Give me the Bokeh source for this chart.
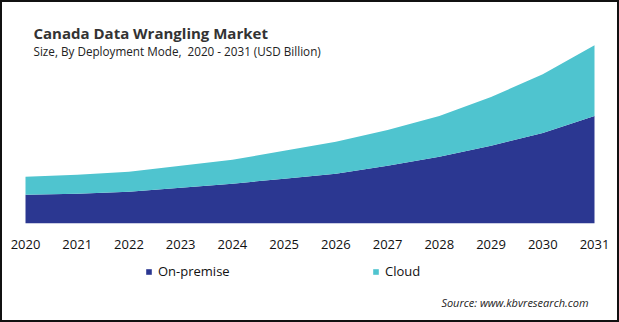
from bokeh.plotting import figure
from bokeh.layouts import column
from bokeh.models import (Range1d, FixedTicker, Label, ColumnDataSource, Legend,
                          LegendItem)
from bokeh.embed import file_html
from bokeh.resources import INLINE

years = [2020, 2021, 2022, 2023, 2024, 2025, 2026, 2027, 2028, 2029, 2030, 2031]
on_premise = [0.29, 0.30, 0.32, 0.36, 0.40, 0.45, 0.50, 0.58, 0.67, 0.78, 0.91, 1.08]
cloud = [0.18, 0.19, 0.20, 0.22, 0.24, 0.28, 0.32, 0.36, 0.41, 0.49, 0.59, 0.71]
series_names = ["On-premise", "Cloud"]
colors = ["#2b3791", "#4fc4cf"]

title_text = "Canada Data Wrangling Market"
subtitle_text = "Size, By Deployment Mode,\u00a0 2020 - 2031 (USD Billion)"
source_text = "Source: www.kbvresearch.com"

W, H = 619, 322
X0, X1 = 25, 594           # pixel positions of first / last year
TOP_PX, BASE_PX = 45, 224  # pixel of the max total / of zero
AXIS_H = 27                # height of the tick-label strip
y_top = on_premise[-1] + cloud[-1]
ppx = (years[-1] - years[0]) / (X1 - X0)
xr = Range1d(years[0] - X0 * ppx, years[-1] + (W - X1) * ppx)
yr = Range1d(0, y_top * BASE_PX / (BASE_PX - TOP_PX))

src = ColumnDataSource(dict(year=years, on_premise=on_premise, cloud=cloud))

# --- main chart -------------------------------------------------------------
p = figure(width=W, height=BASE_PX + AXIS_H, output_backend="svg",
           toolbar_location=None, x_range=xr, y_range=yr, title_location=None,
           min_border_left=0, min_border_right=0,
           min_border_top=0, min_border_bottom=AXIS_H)
p.outline_line_color = None
p.background_fill_alpha = 0
p.border_fill_alpha = 0
p.grid.visible = False
p.yaxis.visible = False

p.varea_stack(stackers=["on_premise", "cloud"], x="year", color=colors, source=src)

xa = p.xaxis[0]
xa.ticker = FixedTicker(ticks=years)
xa.axis_line_color = None
xa.major_tick_line_color = None
xa.minor_tick_line_color = None
xa.major_label_text_font = "Open Sans"
xa.major_label_text_font_size = "13px"
xa.major_label_text_color = "#111111"
xa.major_label_standoff = 10


def px_x(px):
    return xr.start + px * ppx


def px_y(py):
    return (BASE_PX - py) * y_top / (BASE_PX - TOP_PX)


p.add_layout(Label(x=px_x(33), y=px_y(33), text=title_text, text_font="Open Sans",
                   text_font_style="bold", text_font_size="15px", text_color="#333333",
                   text_baseline="alphabetic"))
p.add_layout(Label(x=px_x(33), y=px_y(51), text=subtitle_text, text_font="Open Sans",
                   text_font_size="11.7px", text_color="#222222",
                   text_baseline="alphabetic"))

# --- legend + source strip ----------------------------------------------------
H2 = H - BASE_PX - AXIS_H
q = figure(width=W, height=H2, output_backend="svg", toolbar_location=None,
           x_range=xr, y_range=Range1d(10, 11), title_location=None,
           min_border_left=0, min_border_right=0, min_border_top=0, min_border_bottom=0)
q.outline_line_color = None
q.background_fill_alpha = 0
q.border_fill_alpha = 0
q.grid.visible = False
q.axis.visible = False
rs = q.varea_stack(stackers=["on_premise", "cloud"], x="year", color=colors, source=src)

legend = Legend(items=[LegendItem(label=series_names[0], renderers=[rs[0]]),
                       LegendItem(label=series_names[1], renderers=[rs[1]])],
                orientation="horizontal", location=(145, H2 - 30),
                glyph_width=7, glyph_height=7, label_standoff=6,
                label_width=89, label_height=20, spacing=125,
                padding=0, margin=0, border_line_color=None,
                background_fill_alpha=0,
                label_text_font="Open Sans", label_text_font_size="13px",
                label_text_color="#111111")
q.add_layout(legend, "center")

q.add_layout(Label(x=588, y=H2 - 51, x_units="screen", y_units="screen",
                   text=source_text, text_font="Open Sans",
                   text_font_style="italic", text_font_size="11px",
                   text_color="#222222", text_baseline="middle", text_align="right"))

layout = column(p, q, spacing=0)
layout.styles = {"outline": "2px solid #111111", "outline-offset": "-2px",
                 "background-color": "white"}

open("out.html", "w").write(file_html(layout, INLINE))
